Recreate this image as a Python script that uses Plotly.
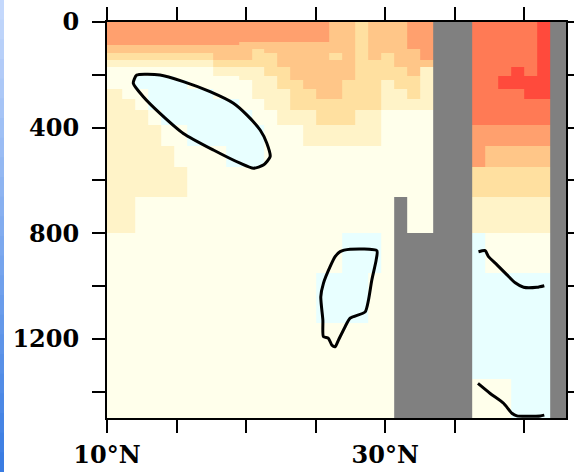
import numpy as np
import plotly.graph_objects as go

# Latitude cell edges (deg N) and depth level edges (m) of the model grid
lat_edges = [9.22, 10.15, 11.08, 12.01, 12.95, 13.88, 14.81, 15.74, 16.67, 17.60,
             18.54, 19.47, 20.40, 21.33, 22.26, 23.19, 24.13, 25.06, 25.99, 26.92,
             27.85, 28.78, 29.72, 30.65, 31.58, 32.51, 33.44, 34.37, 35.31, 36.24,
             37.17, 38.10, 39.03, 39.96, 40.90, 41.83, 42.76, 43.69]
depth_edges = [0, 75, 87, 104, 118, 144, 170, 205, 220, 252, 292, 334, 391,
               471, 551, 661, 798, 950, 1140, 1352, 1500]

# Shade level of each cell, one string per latitude column (surface -> bottom).
# 1 = highest level ... 8 = lowest (negative) level, L = land
level_profiles = [
    "33445677766666667777",
    "33445677766666667777",
    "33445677776666667777",
    "33445678877666677777",
    "33445678888766677777",
    "33445678888876677777",
    "33445677888877677777",
    "33445677788887777777",
    "33445677788887777777",
    "33444567778887777777",
    "33444567778888777777",
    "34444566777888777777",
    "34455566667788777777",
    "34445556666777777777",
    "34444455566677777777",
    "34444444555677777777",
    "34444444455667777777",
    "34444444445567777877",
    "44445444445567777877",
    "44444444555567778877",
    "55555555555667778877",
    "44444555555667778777",
    "44445555666777777777",
    "444444555667777LLLLL",
    "3334444555677777LLLL",
    "3333346666677777LLLL",
    "LLLLLLLLLLLLLLLLLLLL",
    "LLLLLLLLLLLLLLLLLLLL",
    "LLLLLLLLLLLLLLLLLLLL",
    "22222222222233568887",
    "22222222222234567887",
    "22222221122234567887",
    "22222211122234567888",
    "22222221112234567888",
    "11111111112234567888",
    "LLLLLLLLLLLLLLLLLLLL",
    "LLLLLLLLLLLLLLLLLLLL",
]

shade_colors = ["#FF4A3C", "#FF7A55", "#FFA06E", "#FFC688",
                "#FFE0A0", "#FFF3C8", "#FFFFEB", "#E8FFFF"]

# Zero contour segments (lat, depth)
ellipse_lat = [12.14, 13.81, 15.49, 17.41, 19.09, 20.05, 21.01, 21.49, 21.73, 21.24,
               20.53, 19.57, 17.65, 15.49, 13.81, 12.61, 11.89, 12.14]
ellipse_dep = [201, 201, 226, 264, 308, 352, 409, 459, 510, 542,
               554, 535, 485, 422, 346, 283, 232, 201]
blob_lat = [26.76, 27.48, 29.40, 29.35, 29.04, 28.80, 28.56, 27.48, 27.12, 26.64,
            26.40, 26.17, 25.92, 25.56, 25.52, 25.37, 25.56, 26.04, 26.40, 26.76]
blob_dep = [870, 861, 866, 902, 977, 1053, 1098, 1122, 1154, 1205,
            1230, 1224, 1198, 1192, 1129, 1041, 990, 927, 889, 870]
east_upper_lat = [36.71, 37.19, 37.43, 38.04, 38.76, 39.35, 39.95, 40.91, 41.44]
east_upper_dep = [870, 866, 889, 920, 958, 988, 1005, 1005, 999]
east_lower_lat = [36.67, 37.55, 38.51, 39.11, 39.47, 41.15, 41.44]
east_lower_dep = [1369, 1407, 1444, 1482, 1492, 1492, 1489]

lat_ticks = [10, 15, 20, 25, 30, 35, 40]
lat_labels = ["10°N", "", "", "", "30°N", "", ""]
depth_ticks = [0, 200, 400, 600, 800, 1000, 1200, 1400]
depth_labels = ["0", "", "400", "", "800", "", "1200", ""]

n_rows = len(depth_edges) - 1
z = [[np.nan if col[r] == "L" else int(col[r]) for col in level_profiles]
     for r in range(n_rows)]

n = len(shade_colors)
colorscale = []
for i, c in enumerate(shade_colors):
    colorscale.append([i / n, c])
    colorscale.append([(i + 1) / n, c])

fig = go.Figure()
fig.add_trace(go.Heatmap(
    x=lat_edges, y=depth_edges, z=z,
    colorscale=colorscale, zmin=0.5, zmax=n + 0.5,
    showscale=False, hoverinfo="skip", zsmooth=False,
))

for lx, ly in [(ellipse_lat, ellipse_dep), (blob_lat, blob_dep),
               (east_upper_lat, east_upper_dep), (east_lower_lat, east_lower_dep)]:
    fig.add_trace(go.Scatter(
        x=lx, y=ly, mode="lines",
        line=dict(color="black", width=3, shape="spline", smoothing=0.6),
        hoverinfo="skip", showlegend=False,
    ))

# Blue gradient strip along the left page edge
W, H, L, R, T, B = 574, 472, 107, 8, 22, 54
pw, ph = W - L - R, H - T - B
steps = 24
top_rgb = np.array([196, 216, 252])
bot_rgb = np.array([58, 124, 226])
shapes = []
seg = (H / ph) / steps
for k in range(steps):
    f = k / (steps - 1)
    rgb = (top_rgb * (1 - f) + bot_rgb * f).astype(int)
    y_hi = (H - B) / ph - k * seg
    y_lo = y_hi - seg
    shapes.append(dict(type="rect", xref="paper", yref="paper",
                       x0=-L / pw, x1=(4 - L) / pw, y0=y_lo - 0.002, y1=y_hi,
                       line=dict(width=0),
                       fillcolor=f"rgb({rgb[0]},{rgb[1]},{rgb[2]})"))

axis_font = dict(family="DejaVu Serif", size=24, color="black", weight="bold")
fig.update_layout(
    width=W, height=H, autosize=False,
    margin=dict(l=L, r=R, t=T, b=B, pad=0),
    paper_bgcolor="white", plot_bgcolor="#808080",
    showlegend=False, shapes=shapes,
    xaxis=dict(range=[10, 43], tickvals=lat_ticks, ticktext=lat_labels,
               ticks="outside", ticklen=13, tickwidth=2, tickcolor="black",
               showline=True, linecolor="black", linewidth=2, mirror="ticks",
               showgrid=False, zeroline=False, tickfont=axis_font,
               ticklabelstandoff=1, automargin=False),
    yaxis=dict(range=[1500, 0], tickvals=depth_ticks, ticktext=depth_labels,
               ticks="outside", ticklen=13, tickwidth=2, tickcolor="black",
               showline=True, linecolor="black", linewidth=2, mirror="ticks",
               showgrid=False, zeroline=False, tickfont=axis_font,
               ticklabelstandoff=8, automargin=False),
)

fig.write_html("out.html", config={"responsive": False})
